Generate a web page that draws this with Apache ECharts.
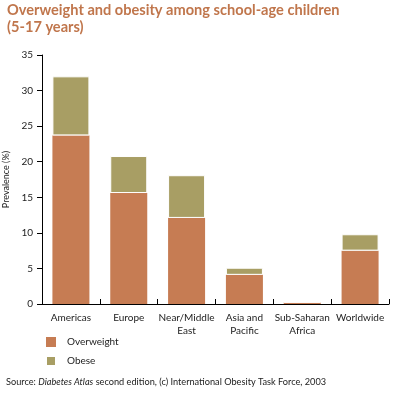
<!DOCTYPE html>
<html>
<head>
<meta charset="utf-8">
<script src="https://cdn.jsdelivr.net/npm/echarts@6/dist/echarts.min.js"></script>
<style>
  html, body { margin: 0; padding: 0; background: #fff; }
  #main { width: 399px; height: 399px; }
</style>
</head>
<body>
<div id="main"></div>
<script>
var regions = ['Americas', 'Europe', 'Near/Middle\nEast', 'Asia and\nPacific', 'Sub-Saharan\nAfrica', 'Worldwide'];
var overweight = [23.7, 15.6, 12.1, 4.1, 0.2, 7.5];
var obese = [8.3, 5.2, 6.0, 1.0, 0.1, 2.3];
var yTicks = [0, 5, 10, 15, 20, 25, 30, 35];

var fontName = 'Lato';
var myChart = echarts.init(document.getElementById('main'));

var option = {
    animation: false,
    textStyle: { fontFamily: fontName },
    title: [{
        text: 'Overweight and obesity among school-age children\n(5-17 years)',
        left: 2,
        top: -3,
        textStyle: { color: '#c0764c', fontSize: 14.6, fontWeight: 'bold', lineHeight: 17, fontFamily: fontName }
    }, {
        text: '{n|Source: }{i|Diabetes Atlas}{n| second edition, (c) International Obesity Task Force, 2003}',
        left: 1,
        top: 373,
        textStyle: {
            fontWeight: 'normal',
            rich: {
                n: { fontSize: 9.2, color: '#222', fontWeight: 'normal', fontFamily: fontName },
                i: { fontSize: 9.2, color: '#222', fontWeight: 'normal', fontStyle: 'italic', fontFamily: fontName }
            }
        }
    }],
    legend: {
        orient: 'vertical',
        left: 45,
        top: 337,
        padding: 0,
        itemWidth: 10,
        itemHeight: 10,
        itemGap: 8,
        icon: 'rect',
        textStyle: { fontSize: 10, color: '#222', padding: [0, 0, 0, 6] },
        data: ['Overweight', 'Obese']
    },
    grid: { left: 42, right: 10, top: 55, bottom: 95, containLabel: false, outerBoundsMode: 'none' },
    xAxis: {
        type: 'category',
        data: regions,
        axisLine: { lineStyle: { color: '#000', width: 1 } },
        axisTick: { show: true, inside: true, length: 5, lineStyle: { color: '#000' } },
        axisLabel: { color: '#222', fontSize: 10, lineHeight: 13, margin: 7, interval: 0, hideOverlap: false }
    },
    yAxis: {
        type: 'value',
        min: 0,
        max: 35,
        interval: 5,
        name: 'Prevalence (%)',
        nameLocation: 'middle',
        nameGap: 30,
        nameTextStyle: { fontSize: 9, color: '#222' },
        axisLine: { show: true, lineStyle: { color: '#000' } },
        axisTick: { show: true, length: 5, lineStyle: { color: '#000' } },
        axisLabel: {
            color: '#222', fontSize: 10, margin: 9,
            formatter: function (v) { return yTicks.indexOf(v) >= 0 ? String(v) : ''; }
        },
        splitLine: { show: false }
    },
    series: [{
        name: 'Overweight',
        type: 'bar',
        stack: 'total',
        barWidth: 37,
        data: overweight,
        itemStyle: { color: '#c67c53' }
    }, {
        name: 'Obese',
        type: 'bar',
        stack: 'total',
        barWidth: 37,
        data: obese,
        itemStyle: { color: '#a89e64', borderColor: '#fff', borderWidth: 1 }
    }]
};

myChart.setOption(option);
</script>
</body>
</html>
